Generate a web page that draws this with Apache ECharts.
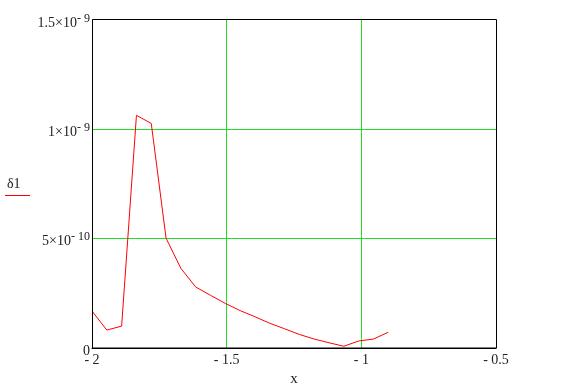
<!DOCTYPE html>
<html>
<head>
<meta charset="utf-8">
<script src="https://cdn.jsdelivr.net/npm/echarts@6/dist/echarts.min.js"></script>
<style>
html,body{margin:0;padding:0;background:#fff;}
#c{width:561px;height:392px;}
</style>
</head>
<body>
<div id="c"></div>
<script>
// Data
var xValues = [-2, -1.945, -1.89, -1.835, -1.78, -1.725, -1.67, -1.615, -1.56, -1.505, -1.45,
               -1.395, -1.34, -1.285, -1.23, -1.175, -1.12, -1.065, -1.01, -0.955, -0.9];
var delta1 = [1.69e-10, 0.82e-10, 1.0e-10, 10.64e-10, 10.27e-10, 5.02e-10, 3.64e-10, 2.79e-10, 2.41e-10, 2.04e-10, 1.71e-10,
              1.43e-10, 1.13e-10, 0.88e-10, 0.62e-10, 0.41e-10, 0.24e-10, 0.08e-10, 0.32e-10, 0.41e-10, 0.72e-10];
var xTickValues = [-2, -1.5, -1, -0.5];
var xTickLabels = ['- 2', '- 1.5', '- 1', '- 0.5'];
var yTickValues = [0, 5e-10, 1e-9, 1.5e-9];
var yTickMant = ['0', '5×10', '1×10', '1.5×10'];
var yTickExp = ['', '- 10', '- 9', '- 9'];
var seriesName = 'δ1';
var xTitle = 'x';

var chart = echarts.init(document.getElementById('c'));
var pts = xValues.map(function (x, i) { return [x, delta1[i]]; });

function findIdx(arr, v) {
  for (var i = 0; i < arr.length; i++) if (Math.abs(arr[i] - v) <= 1e-6 * Math.max(Math.abs(arr[i]), Math.abs(v)) || arr[i] === v) return i;
  return -1;
}

chart.setOption({
  animation: false,
  grid: { left: 92, top: 20, width: 404, height: 328, show: false },
  xAxis: {
    type: 'value', min: -2, max: -0.5, interval: 0.5,
    axisLine: { show: true, lineStyle: { color: '#000', width: 1 } },
    axisTick: { show: false },
    splitLine: { show: true, showMinLine: false, showMaxLine: false, lineStyle: { color: '#22dd22', width: 1 } },
    axisLabel: {
      margin: 5, color: '#222', fontFamily: 'Liberation Serif', fontSize: 14,
      formatter: function (v) { var i = findIdx(xTickValues, v); return i >= 0 ? xTickLabels[i] : ''; }
    },
    name: xTitle, nameLocation: 'middle', nameGap: 24,
    nameTextStyle: { color: '#222', fontFamily: 'Liberation Serif', fontSize: 15 }
  },
  yAxis: {
    type: 'value', min: 0, max: 1.5e-9, interval: 5e-10,
    axisLine: { show: true, lineStyle: { color: '#000', width: 1 } },
    axisTick: { show: false },
    splitLine: { show: true, showMinLine: false, showMaxLine: false, lineStyle: { color: '#22dd22', width: 1 } },
    axisLabel: {
      margin: 2, color: '#222', fontFamily: 'Liberation Serif', fontSize: 14,
      formatter: function (v) {
        var i = findIdx(yTickValues, v);
        if (i < 0) return '';
        if (!yTickExp[i]) return '{m|' + yTickMant[i] + '}';
        return '{m|' + yTickMant[i] + '}{e|' + yTickExp[i] + '}';
      },
      rich: {
        m: { fontFamily: 'Liberation Serif', fontSize: 14, color: '#222', padding: [6, 0, 0, 0] },
        e: { fontFamily: 'Liberation Serif', fontSize: 12, color: '#222', padding: [0, 0, 3, 0] }
      }
    }
  },
  series: [{
    name: seriesName, type: 'line', data: pts, showSymbol: false, symbol: 'none',
    lineStyle: { color: '#ff0000', width: 1 }, itemStyle: { color: '#ff0000' }
  }],
  graphic: [
    { type: 'rect', shape: { x: 92.5, y: 19.5, width: 404, height: 328.5 }, style: { fill: null, stroke: '#000', lineWidth: 1 }, z: 100 },
    { type: 'text', left: 7, top: 177, style: { text: seriesName, font: '14px "Liberation Serif"', fill: '#222' } },
    { type: 'line', shape: { x1: 5, y1: 195.5, x2: 30, y2: 195.5 }, style: { stroke: '#ff0000', lineWidth: 1 } }
  ]
});
</script>
</body>
</html>
